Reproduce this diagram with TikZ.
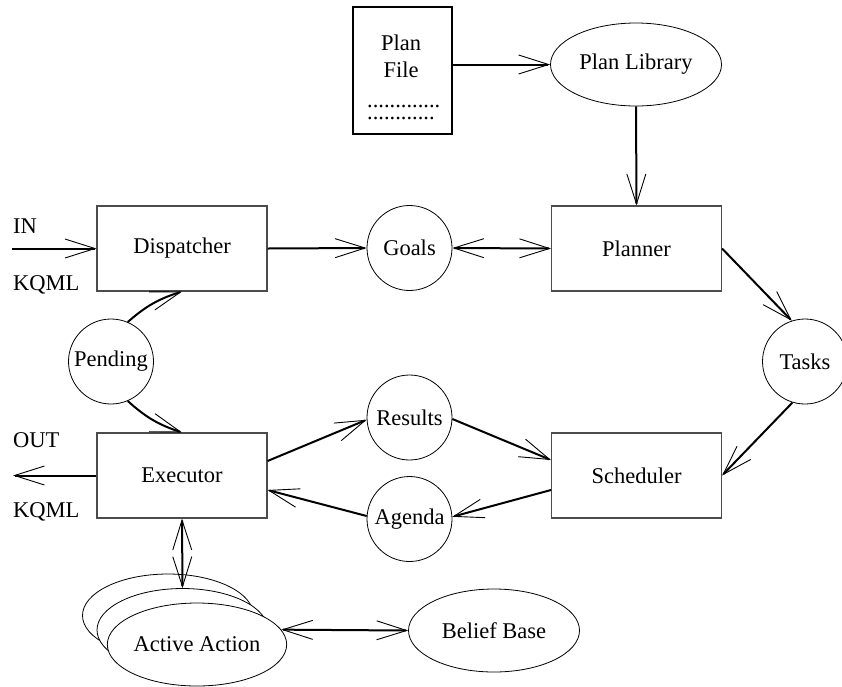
\documentclass[tikz,border=0pt]{standalone}
\usepackage{fontspec}
\setmainfont{Liberation Serif}
\usetikzlibrary{arrows.meta,shapes.geometric}
\begin{document}
\begin{tikzpicture}[x=1pt,y=-1pt,
  font=\fontsize{22.5}{26}\selectfont,
  >={Straight Barb[length=30pt,width=19pt,line width=0.9pt]},
  conn/.style={line width=2pt},
  box/.style={draw=black!70,line width=1.1pt,rectangle,minimum width=170pt,minimum height=85pt,inner sep=0pt},
  filebox/.style={draw,line width=2pt,rectangle,minimum width=99pt,minimum height=127pt,inner sep=0pt},
  store/.style={draw,circle,line width=0.8pt,minimum size=85pt,inner sep=0pt},
  oval/.style={draw,ellipse,line width=0.8pt,fill=white,minimum width=171pt,minimum height=83pt,inner sep=0pt},
  lbl/.style={inner sep=0pt}]
\useasboundingbox (0,0) rectangle (842,686);

% plan file and library
\node[filebox] (pf) at (402.5,70.5) {};
\node[lbl,anchor=base] (pfa) at (401,50) {Plan};
\node[lbl,anchor=base] (pfb) at (401,77) {File};
\node[lbl,anchor=base west,font=\fontsize{22.5}{12}\selectfont,align=left] (pfc) at (367,119) {.............\\............};
\node[oval] (lib) at (636,64.5) {Plan Library};

% main loop
\node[box] (disp) at (182,248.5) {Dispatcher};
\node[store] (goals) at (409.5,248) {Goals};
\node[box] (plan) at (636.5,248.5) {Planner};
\node[store] (tasks) at (805,361.5) {Tasks};
\node[store] (pend) at (111,361.5) {Pending};
\node[box] (exec) at (182,475.5) {Executor};
\node[store] (res) at (409.5,417.5) {Results};
\node[store] (agenda) at (409.5,519) {Agenda};
\node[box] (sched) at (636.5,475.5) {Scheduler};

% stacked actions and belief base
\node[oval] (aa1) at (168,615.5) {};
\node[oval] (aa2) at (182.5,630) {};
\node[oval] (aa3) at (197,644.5) {Active Action};
\node[oval] (belief) at (494,630.5) {Belief Base};

% external message ports
\coordinate (inport) at (12,248.5);
\coordinate (outport) at (13,475.5);
\node[lbl,anchor=base west] (inlbl) at (13,233) {IN};
\node[lbl,anchor=base west] (inkq) at (13,290) {KQML};
\node[lbl,anchor=base west] (outlbl) at (13,447) {OUT};
\node[lbl,anchor=base west] (outkq) at (13,517) {KQML};

% connectors
\draw[conn,->] (pf.east |- lib.west) -- (lib.west);
\draw[conn,->] (lib.south) -- (plan.north);
\draw[conn,->] (inport) -- (disp.west);
\draw[conn,->] (disp.east) -- (goals.west);
\draw[conn,<->] (goals.east) -- (plan.west);
\draw[conn,->] (plan.east) -- (tasks.108);
\draw[conn,->] (tasks.253) -- (sched.east);
\draw[conn,->] (pend.67) to[bend left=12] (disp.south);
\draw[conn,->] (pend.-67) to[bend right=12] (exec.north);
\draw[conn,->] (exec.west) -- (outport);
\draw[conn,->] ([yshift=14.5pt]exec.east) -- (res.183);
\draw[conn,->] (res.358) -- ([yshift=15.5pt]sched.west);
\draw[conn,->] ([yshift=-14.5pt]sched.west) -- (agenda.3);
\draw[conn,->] (agenda.176) -- ([yshift=-14.5pt]exec.east);
\draw[conn,<->] (exec.south) -- (aa2.north);
\draw[conn,<->] (aa3.10) -- (belief.west);
\end{tikzpicture}
\end{document}
